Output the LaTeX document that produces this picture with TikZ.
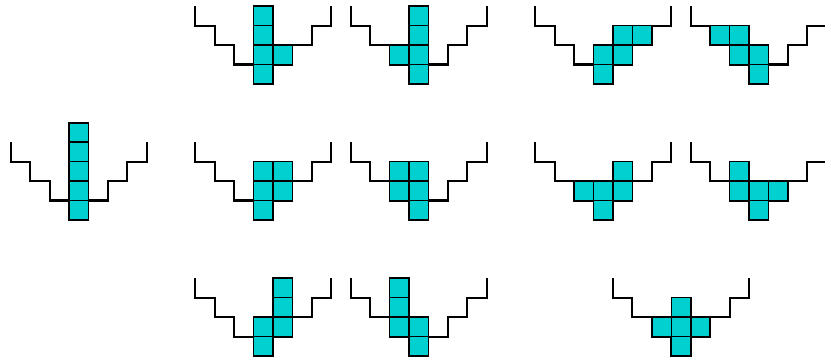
\documentclass[tikz,border=0pt]{standalone}
\definecolor{piece}{RGB}{0,208,208}
\tikzset{
  wall/.style={draw=black,line width=1.5pt,line join=miter},
  cellbox/.style={fill=piece,draw=black,line width=1.1pt}
}
\newcommand{\funnelfig}[3]{%
  \begin{scope}[shift={(#1,#2)}]
    \draw[wall] (-3,4)--(-3,3)--(-2,3)--(-2,2)--(-1,2)--(-1,1)--(0,1)--(0,0)--(1,0)--(1,1)--(2,1)--(2,2)--(3,2)--(3,3)--(4,3)--(4,4);
    \foreach \a/\b in {#3} \draw[cellbox] (\a,\b) rectangle ++(1,1);
  \end{scope}}
\begin{document}
\begin{tikzpicture}[x=0.5cm,y=0.5cm]
\useasboundingbox (0,0) rectangle (42.46,18.63);
% left column
\funnelfig{3.55}{7.31}{0/0,0/1,0/2,0/3,0/4}
% row 1
\funnelfig{13.05}{14.31}{0/0,0/1,0/2,0/3,1/1}
\funnelfig{21.05}{14.31}{0/0,0/1,0/2,0/3,-1/1}
\funnelfig{30.55}{14.31}{0/0,0/1,1/1,1/2,2/2}
\funnelfig{38.55}{14.31}{0/0,0/1,-1/1,-1/2,-2/2}
% row 2
\funnelfig{13.05}{7.31}{0/0,0/1,1/1,0/2,1/2}
\funnelfig{21.05}{7.31}{0/0,0/1,-1/1,0/2,-1/2}
\funnelfig{30.55}{7.31}{0/0,-1/1,0/1,1/1,1/2}
\funnelfig{38.55}{7.31}{0/0,-1/1,0/1,1/1,-1/2}
% row 3
\funnelfig{13.05}{0.31}{0/0,0/1,1/1,1/2,1/3}
\funnelfig{21.05}{0.31}{0/0,0/1,-1/1,-1/2,-1/3}
\funnelfig{34.55}{0.31}{0/0,-1/1,0/1,1/1,0/2}
\end{tikzpicture}
\end{document}
